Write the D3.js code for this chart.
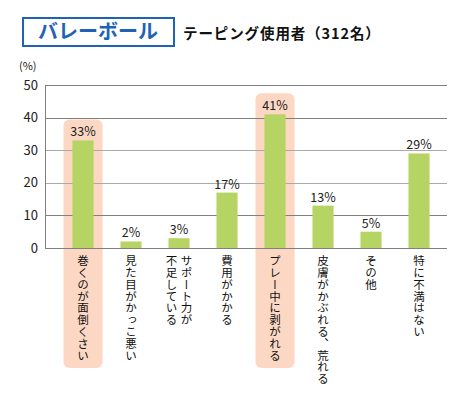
<!DOCTYPE html>
<html>
<head>
<meta charset="utf-8">
<script src="https://cdn.jsdelivr.net/npm/d3@7"></script>
<style>
body { margin: 0; background: #fff; }
text { font-family: "Noto Sans CJK JP", "Noto Sans", sans-serif; fill: #222; }
</style>
</head>
<body>
<script>
// data //////////////////////////////
var categories = ["巻くのが面倒くさい", "見た目がかっこ悪い", "サポート力が\n不足している", "費用がかかる",
                  "プレー中に剥がれる", "皮膚がかぶれる、荒れる", "その他", "特に不満はない"];
var values = [33, 2, 3, 17, 41, 13, 5, 29];
var highlighted = ["巻くのが面倒くさい", "プレー中に剥がれる"];
var yTicks = [0, 10, 20, 30, 40, 50];
var sportName = "バレーボール";
var subtitle = "テーピング使用者（312名）";

// svg setup //////////////////////////////
var width = 468, height = 393;
var svg = d3.select("body").append("svg")
	.attr("width", width)
	.attr("height", height);

var plotLeft = 45, plotRight = 447;

var xScale = d3.scaleBand()
	.domain(categories)
	.range([59, 443])
	.paddingInner(0.56)
	.paddingOuter(0.28);

var yScale = d3.scaleLinear()
	.domain([0, 50])
	.range([248, 85]);

// title
svg.append("rect")
	.attr("x", 23).attr("y", 18)
	.attr("width", 151).attr("height", 28)
	.attr("fill", "#fff")
	.attr("stroke", "#1e63b5")
	.attr("stroke-width", 2);

svg.append("text")
	.attr("x", 98).attr("y", 39)
	.attr("text-anchor", "middle")
	.style("font-size", "20px")
	.style("font-weight", "bold")
	.style("fill", "#1e63b5")
	.text(sportName);

svg.append("text")
	.attr("x", 183).attr("y", 39)
	.style("font-size", "14.5px")
	.style("font-weight", "bold")
	.style("letter-spacing", "0.9px")
	.style("fill", "#111")
	.text(subtitle);

svg.append("text")
	.attr("x", 19).attr("y", 70)
	.style("font-size", "11px")
	.text("(%)");

// highlight backgrounds
svg.selectAll(".hl")
	.data(highlighted)
	.enter().append("rect")
		.attr("class", "hl")
		.attr("x", function(d){ return xScale(d) + xScale.bandwidth()/2 - 19.5; })
		.attr("y", function(d){ return yScale(values[categories.indexOf(d)]) - 21; })
		.attr("width", 39)
		.attr("height", function(d){ return 368 - yScale(values[categories.indexOf(d)]) + 21; })
		.attr("rx", 6)
		.attr("fill", "#fcd8c4");

// gridlines
svg.selectAll(".grid")
	.data(yTicks)
	.enter().append("line")
		.attr("class", "grid")
		.attr("x1", plotLeft).attr("x2", plotRight)
		.attr("y1", function(d){ return Math.round(yScale(d)) + 0.5; })
		.attr("y2", function(d){ return Math.round(yScale(d)) + 0.5; })
		.attr("stroke", function(d){ return (d == 20 || d == 30) ? "#aaa" : "#808080"; })
		.attr("stroke-width", 1);

svg.append("line")
	.attr("x1", plotLeft + 0.5).attr("x2", plotLeft + 0.5)
	.attr("y1", yScale(50)).attr("y2", yScale(0) + 0.5)
	.attr("stroke", "#808080");

// y axis labels
var yAxis = d3.axisLeft(yScale).tickValues(yTicks).tickSize(0).tickPadding(0);
var yG = svg.append("g")
	.attr("transform", "translate(38,0)")
	.call(yAxis);
yG.select(".domain").remove();
yG.selectAll("text")
	.style("font-size", "13px")
	.style("font-family", "\"Noto Sans CJK JP\", sans-serif")
	.attr("fill", "#222");

// bars
svg.selectAll(".bar")
	.data(categories)
	.enter().append("rect")
		.attr("class", "bar")
		.attr("x", function(d){ return xScale(d); })
		.attr("y", function(d,i){ return yScale(values[i]); })
		.attr("width", xScale.bandwidth())
		.attr("height", function(d,i){ return yScale(0) - yScale(values[i]); })
		.attr("fill", "#b6d464");

// value labels
svg.selectAll(".val")
	.data(categories)
	.enter().append("text")
		.attr("class", "val")
		.attr("x", function(d){ return xScale(d) + xScale.bandwidth()/2; })
		.attr("y", function(d,i){ return yScale(values[i]) - 4; })
		.attr("text-anchor", "middle")
		.style("font-size", "12.5px")
		.text(function(d,i){ return values[i] + "%"; });

// category labels, vertical
categories.forEach(function(d){
	var lines = d.split("\n");
	var cx = xScale(d) + xScale.bandwidth()/2;
	lines.forEach(function(line, j){
		var off = (lines.length - 1) * 7.5 - j * 15;
		svg.append("text")
			.attr("x", cx + off)
			.attr("y", 255)
			.style("writing-mode", "vertical-rl")
			.style("font-size", "11.5px")
			.style("letter-spacing", "0.3px")
			.style("fill", "#111")
			.text(line);
	});
});
</script>
</body>
</html>
